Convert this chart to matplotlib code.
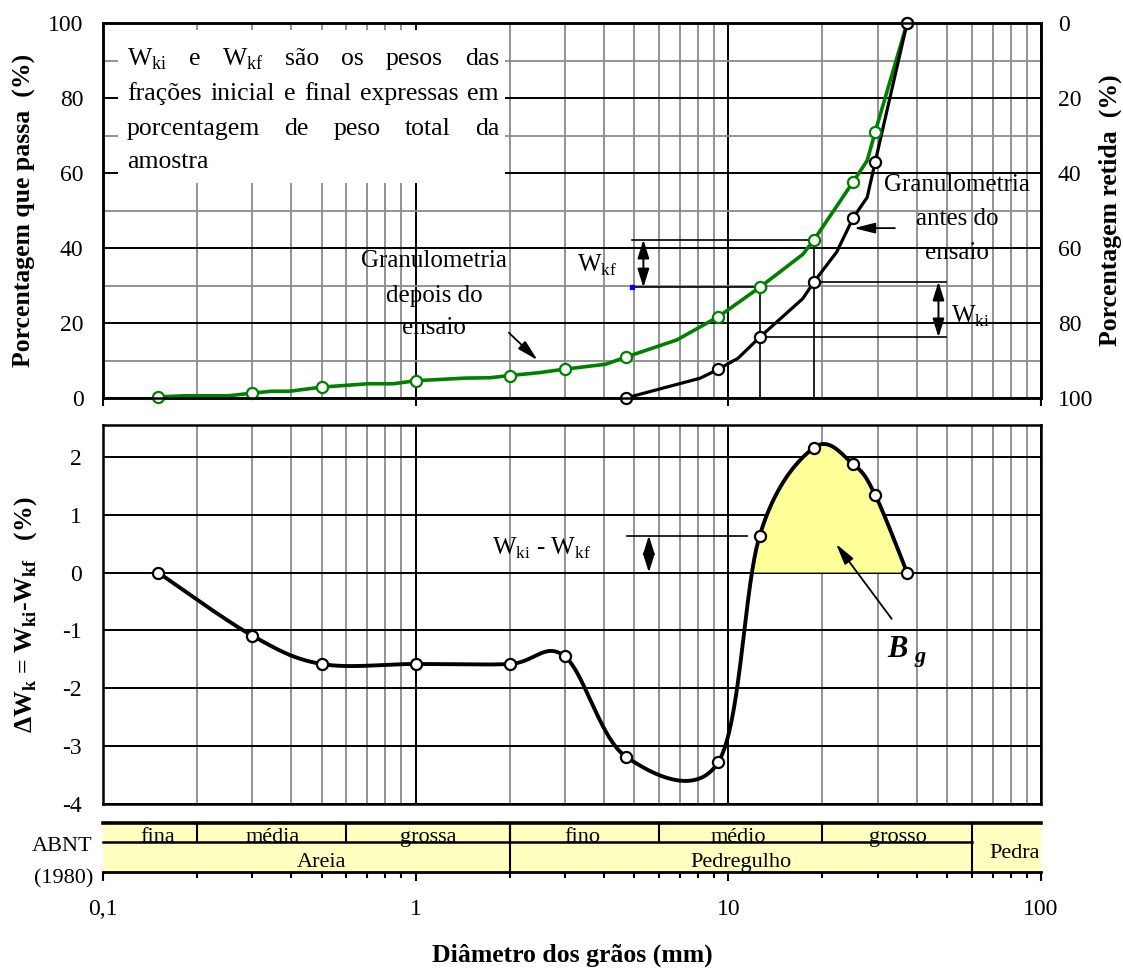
import numpy as np
import matplotlib
matplotlib.use('Agg')
import matplotlib.pyplot as plt
from matplotlib.patches import Rectangle
from matplotlib.ticker import FixedLocator, NullFormatter, FixedFormatter

plt.rcParams['font.family'] = ['Liberation Serif', 'DejaVu Serif']
plt.rcParams['axes.unicode_minus'] = False

# ---------------- data ----------------
sieve_d = [0.15, 0.3, 0.5, 1.0, 2.0, 3.0, 4.7, 9.3, 12.6, 18.8, 25.1, 29.5, 37.3]
pass_after = [0.3, 1.3, 2.9, 4.6, 6.0, 7.7, 10.9, 21.7, 29.5, 42.2, 57.7, 71.0, 100.0]
sieve_d_before = [4.7, 9.3, 12.6, 18.8, 25.1, 29.5, 37.3]
pass_before = [0.0, 7.7, 16.2, 31.0, 48.1, 63.0, 100.0]
# polyline vertices of the drawn curves (incl. unmarked vertices)
after_line_d = [0.15, 0.184, 0.252, 0.3, 0.346, 0.395, 0.5, 0.705, 0.847, 1.0, 1.436, 1.73,
                2.0, 2.48, 3.0, 4.05, 4.7, 6.85, 9.3, 12.6, 17.3, 18.8, 25.1, 27.8, 29.5, 37.3]
after_line_p = [0.3, 0.6, 0.6, 1.3, 1.8, 1.8, 2.9, 3.8, 3.8, 4.6, 5.3, 5.4,
                6.0, 6.75, 7.7, 9.0, 10.9, 15.5, 21.7, 29.5, 38.3, 42.2, 57.7, 63.3, 71.0, 100.0]
before_line_d = [4.7, 8.14, 9.3, 10.74, 12.6, 17.3, 18.8, 22.2, 25.1, 27.8, 29.5, 37.3]
before_line_p = [0.0, 5.3, 7.7, 10.6, 16.2, 26.5, 31.0, 38.9, 48.1, 53.5, 63.0, 100.0]
delta_w = [0.0, -1.09, -1.58, -1.58, -1.58, -1.45, -3.18, -3.27, 0.64, 2.16, 1.87, 1.34, 0.0]

abnt_sub_edges = [0.1, 0.2, 0.6, 2.0, 6.0, 20.0, 60.0]
abnt_sub_labels = ['fina', 'média', 'grossa', 'fino', 'médio', 'grosso']
abnt_main_edges = [0.1, 2.0, 60.0, 100.0]
abnt_main_labels = ['Areia', 'Pedregulho', 'Pedra']
abnt_sub_pos = [0.149, 0.35, 1.1, 3.4, 10.8, 34.8]
abnt_main_pos = [0.5, 11.0, 82.6]

x_major = [0.1, 1, 10, 100]
x_major_labels = ['0,1', '1', '10', '100']
x_minor = [k * 10.0 ** e for e in (-1, 0, 1) for k in range(2, 10)]
pct_ticks = [0, 20, 40, 60, 80, 100]
pct_minor = [10, 30, 50, 70, 90]
dw_ticks = [-4, -3, -2, -1, 0, 1, 2]

GREEN = '#008000'
GRAY = '#8a8a8a'
W, H = 1123, 968


def fa(l, t, r, b):
    return [l / W, 1 - b / H, (r - l) / W, (b - t) / H]


def fx(x, y):
    return x / W, 1 - y / H


def excel_smooth(xs, ys, n=40):
    P = np.column_stack([np.log10(xs), np.asarray(ys, float)])
    out = []
    for i in range(len(P) - 1):
        p0 = P[i - 1] if i > 0 else P[i]
        p1, p2 = P[i], P[i + 1]
        p3 = P[i + 2] if i + 2 < len(P) else P[i + 1]
        c1 = p1 + (p2 - p0) / 6
        c2 = p2 - (p3 - p1) / 6
        t = np.linspace(0, 1, n)[:, None]
        seg = (1 - t) ** 3 * p1 + 3 * (1 - t) ** 2 * t * c1 + 3 * (1 - t) * t ** 2 * c2 + t ** 3 * p2
        out.append(seg if i == 0 else seg[1:])
    a = np.vstack(out)
    return 10 ** a[:, 0], a[:, 1]


fig = plt.figure(figsize=(W / 100, H / 100), dpi=100)
ax1 = fig.add_axes(fa(103, 23, 1041, 398))
ax2 = fig.add_axes(fa(103, 425, 1041, 804))
ax3 = fig.add_axes(fa(103, 823, 1041, 872))

TICK_FS = 17
for ax in (ax1, ax2):
    ax.set_xscale('log')
    ax.set_xlim(0.1, 100)
    ax.xaxis.set_major_locator(FixedLocator(x_major))
    ax.xaxis.set_minor_locator(FixedLocator(x_minor))
    ax.xaxis.set_major_formatter(NullFormatter())
    ax.xaxis.set_minor_formatter(NullFormatter())
    ax.set_axisbelow(True)
    ax.grid(which='minor', axis='x', color=GRAY, lw=1.3)
    ax.grid(which='major', axis='x', color='black', lw=1.4)
    for s in ax.spines.values():
        s.set_linewidth(1.8)
    ax.tick_params(axis='x', which='minor', length=0)
    ax.tick_params(axis='y', which='both', length=0, labelsize=TICK_FS)

# ---------------- top chart ----------------
ax1.set_ylim(0, 100)
ax1.yaxis.set_major_locator(FixedLocator(pct_ticks))
ax1.yaxis.set_minor_locator(FixedLocator(pct_minor))
ax1.yaxis.set_major_formatter(FixedFormatter([str(v) for v in pct_ticks]))
ax1.grid(which='minor', axis='y', color=GRAY, lw=1.3)
ax1.grid(which='major', axis='y', color='black', lw=1.4)
ax1.tick_params(axis='x', which='major', direction='out', length=6, width=1.5)
ax1.tick_params(axis='y', pad=14)

ax1r = ax1.twinx()
ax1r.set_ylim(100, 0)
ax1r.yaxis.set_major_locator(FixedLocator(pct_ticks))
ax1r.yaxis.set_major_formatter(FixedFormatter([str(v) for v in pct_ticks]))
ax1r.tick_params(axis='y', length=0, labelsize=TICK_FS, pad=12)
for s in ax1r.spines.values():
    s.set_linewidth(1.8)

# white text box
ax1.add_patch(Rectangle((0.016, 0.5733), 0.4126, 0.408, transform=ax1.transAxes,
                        facecolor='white', edgecolor='none', zorder=1))

ax1.plot(after_line_d, after_line_p, color=GREEN, lw=2.6, zorder=3, solid_joinstyle='round')
ax1.plot(before_line_d, before_line_p, color='black', lw=2.3, zorder=3, solid_joinstyle='round')
ax1.plot(sieve_d, pass_after, 'o', mfc='white', mec=GREEN, ms=8, mew=1.6, zorder=5, clip_on=False)
ax1.plot(sieve_d_before, pass_before, 'o', mfc='white', mec='black', ms=8, mew=1.6, zorder=6, clip_on=False)

# Wkf / Wki brackets
LWA = 1.2
ax1.plot([4.93, sieve_d[9]], [pass_after[9], pass_after[9]], color='k', lw=LWA, zorder=2.5)
ax1.plot([4.93, 13.0], [pass_after[8], pass_after[8]], color='k', lw=LWA, zorder=2.5)
ax1.plot([sieve_d[8], sieve_d[8]], [0, pass_after[8]], color='k', lw=LWA, zorder=2.5)
ax1.plot([sieve_d[9], sieve_d[9]], [0, pass_after[9]], color='k', lw=LWA, zorder=2.5)
ax1.plot([4.93, 13.0], [pass_after[8], pass_after[8]], 's', color='blue', ms=3.5, zorder=4)
ax1.plot([sieve_d[9], 49.6], [pass_before[3], pass_before[3]], color='k', lw=LWA, zorder=2.5)
ax1.plot([sieve_d[8], 49.6], [pass_before[2], pass_before[2]], color='k', lw=LWA, zorder=2.5)
dbl = dict(arrowstyle='<|-|>,head_length=0.7,head_width=0.22', lw=1.4, color='k',
           shrinkA=0, shrinkB=0, mutation_scale=16)
ax1.annotate('', xy=(5.35, pass_after[9]), xytext=(5.35, pass_after[8]), arrowprops=dbl)
ax1.annotate('', xy=(47.0, pass_before[3]), xytext=(47.0, pass_before[2]), arrowprops=dbl)

ANN_FS = 18
ax1.text(4.43, 33.6, 'W$_\\mathregular{kf}$', ha='right', va='baseline', fontsize=ANN_FS)
ax1.text(51.5, 20.0, 'W$_\\mathregular{ki}$', ha='left', va='baseline', fontsize=ANN_FS)

for txt, yb in zip(['Granulometria', 'antes do', 'ensaio'], [55.3, 46.1, 37.0]):
    ax1.text(53.8, yb, txt, ha='center', va='baseline', fontsize=ANN_FS, zorder=7)
for txt, yb in zip(['Granulometria', 'depois do', 'ensaio'], [34.85, 25.7, 17.1]):
    ax1.text(1.148, yb, txt, ha='center', va='baseline', fontsize=ANN_FS, zorder=7)

sgl = dict(arrowstyle='-|>,head_length=0.8,head_width=0.2', lw=1.3, color='k',
           shrinkA=0, shrinkB=0, mutation_scale=16)
ax1.annotate('', xy=(2.454, 10.1), xytext=(1.987, 17.4), arrowprops=sgl)
ax1.annotate('', xy=(25.2, 45.3), xytext=(34.1, 45.3), arrowprops=sgl)

# ---------------- bottom chart ----------------
ax2.set_ylim(-4, 2.55)
ax2.yaxis.set_major_locator(FixedLocator(dw_ticks))
ax2.yaxis.set_major_formatter(FixedFormatter([str(v) for v in dw_ticks]))
ax2.grid(which='major', axis='y', color='black', lw=1.4)
ax2.tick_params(axis='x', which='major', length=0)
ax2.tick_params(axis='y', pad=15)

sx, sy = excel_smooth(sieve_d, delta_w)
ax2.fill_between(sx, sy, 0, where=(sy >= 0) & (sx > 5), interpolate=True,
                 facecolor='#FFFF99', edgecolor='none', zorder=1)
ax2.plot(sx, sy, color='black', lw=2.8, zorder=3, solid_joinstyle='round')
ax2.plot(sieve_d, delta_w, 'o', mfc='white', mec='black', ms=8, mew=1.6, zorder=5, clip_on=False)

ax2.plot([4.73, 11.5], [delta_w[8], delta_w[8]], color='k', lw=LWA, zorder=2.5)
ax2.annotate('', xy=(5.57, delta_w[8]), xytext=(5.57, 0), arrowprops=dbl)
ax2.text(1.75, 0.31, 'W$_\\mathregular{ki}$ - W$_\\mathregular{kf}$', ha='left', va='baseline',
         fontsize=ANN_FS)
ax2.annotate('', xy=(22.1, 0.495), xytext=(33.3, -0.80), arrowprops=sgl)
ax2.text(32.3, -1.46, 'B', ha='left', va='baseline', fontsize=22, fontweight='bold', fontstyle='italic')
ax2.text(39.3, -1.55, 'g', ha='left', va='baseline', fontsize=16, fontweight='bold', fontstyle='italic')

# ---------------- ABNT bar ----------------
ax3.set_xscale('log')
ax3.set_xlim(0.1, 100)
ax3.set_ylim(0, 1)
ax3.set_facecolor('#FFFFC0')
ax3.spines['left'].set_visible(False)
ax3.spines['right'].set_visible(False)
ax3.spines['top'].set_linewidth(2.6)
ax3.spines['bottom'].set_linewidth(2.0)
ax3.set_yticks([])
ax3.xaxis.set_major_locator(FixedLocator(x_major))
ax3.xaxis.set_minor_locator(FixedLocator(x_minor))
ax3.xaxis.set_major_formatter(FixedFormatter(x_major_labels))
ax3.xaxis.set_minor_formatter(NullFormatter())
ax3.tick_params(axis='x', which='major', direction='out', length=6.5, width=1.5,
                labelsize=TICK_FS, pad=13)
ax3.tick_params(axis='x', which='minor', direction='out', length=4.3, width=1.5)
DIV = 0.605
ax3.plot([0.1, 60], [DIV, DIV], color='k', lw=1.8, clip_on=False)
for e in abnt_sub_edges[1:-1]:
    ax3.plot([e, e], [DIV, 1], color='k', lw=1.5)
for e in abnt_main_edges[1:-1]:
    ax3.plot([e, e], [0, 1], color='k', lw=1.5)
ABNT_FS = 16
for lab, p in zip(abnt_sub_labels, abnt_sub_pos):
    ax3.text(p, DIV + 0.015, lab, ha='center', va='baseline', fontsize=ABNT_FS)
for lab, p, yb in zip(abnt_main_labels, abnt_main_pos, [0.1, 0.106, 0.29]):
    ax3.text(p, yb, lab, ha='center', va='baseline', fontsize=ABNT_FS)

fig.text(*fx(92, 851), 'ABNT', ha='right', va='baseline', fontsize=ABNT_FS)
fig.text(*fx(93, 883), '(1980)', ha='right', va='baseline', fontsize=ABNT_FS)

# ---------------- axis labels ----------------
LAB_FS = 18.5
fig.text(*fx(24, 210), 'Porcentagem que passa  (%)', rotation=90, ha='center', va='center',
         fontsize=LAB_FS, fontweight='bold')
fig.text(*fx(1110, 210), 'Porcentagem retida  (%)', rotation=90, ha='center', va='center',
         fontsize=LAB_FS, fontweight='bold')
fig.text(*fx(26, 615), 'ΔW$_\\mathregular{k}$ = W$_\\mathregular{ki}$-W$_\\mathregular{kf}$   (%)',
         rotation=90, ha='center', va='center', fontsize=LAB_FS, fontweight='bold')
fig.text(*fx(572, 955), 'Diâmetro dos grãos (mm)', ha='center', va='center',
         fontsize=LAB_FS, fontweight='bold')

# ---------------- justified note in the white box ----------------
box_lines = [
    ['W$_\\mathregular{ki}$', 'e', 'W$_\\mathregular{kf}$', 'são', 'os', 'pesos', 'das'],
    ['frações', 'inicial', 'e', 'final', 'expressas', 'em'],
    ['porcentagem', 'de', 'peso', 'total', 'da'],
    ['amostra'],
]
baselines = [65, 100, 135, 168]
BOX_L, BOX_R = 127, 499
renderer = fig.canvas.get_renderer()
for words, yb in zip(box_lines, baselines):
    arts = [fig.text(*fx(BOX_L, yb), w, ha='left', va='baseline', fontsize=18.5) for w in words]
    widths = [a.get_window_extent(renderer).width for a in arts]
    if len(words) > 1 and yb != baselines[-1]:
        gap = (BOX_R - BOX_L - sum(widths)) / (len(words) - 1)
    else:
        gap = 0
    x = BOX_L
    for a, wdt in zip(arts, widths):
        a.set_position(fx(x, yb))
        x += wdt + gap

fig.savefig('out.png', dpi=100)
